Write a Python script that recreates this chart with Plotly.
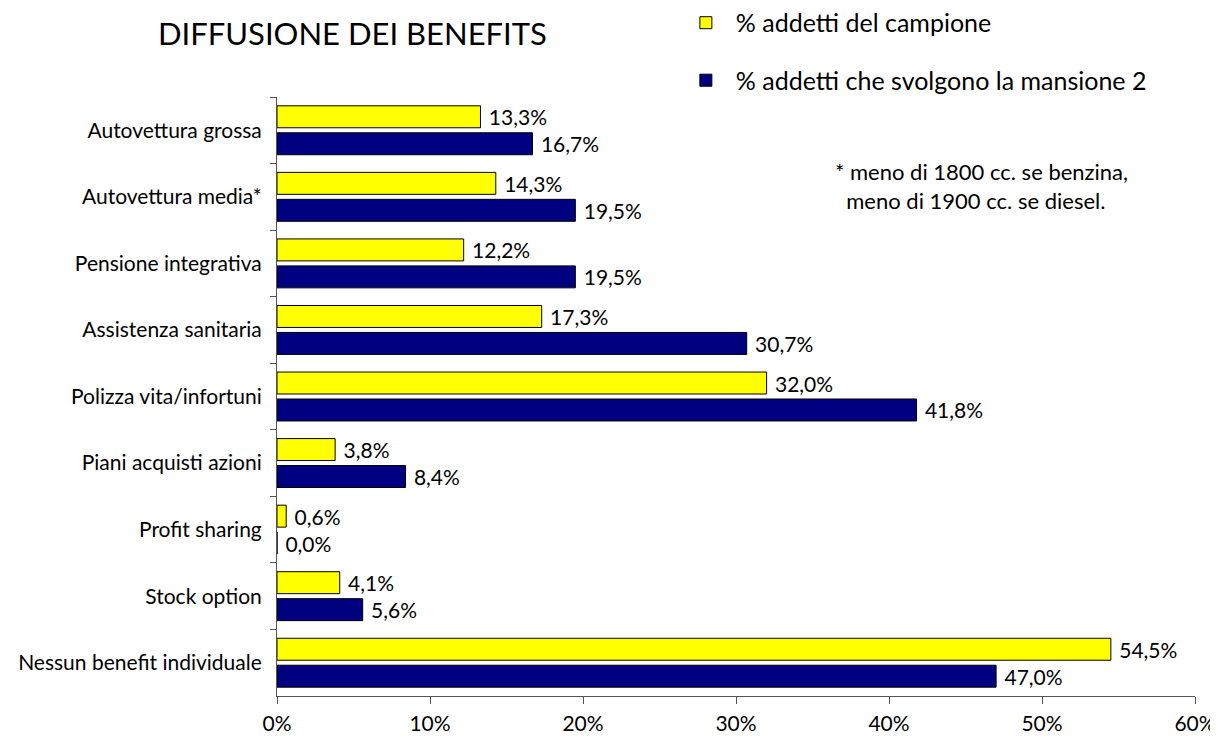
import plotly.graph_objects as go

# dati
categorie = [
    "Autovettura grossa",
    "Autovettura media*",
    "Pensione integrativa",
    "Assistenza sanitaria",
    "Polizza vita/infortuni",
    "Piani acquisti azioni",
    "Profit sharing",
    "Stock option",
    "Nessun benefit individuale",
]
campione = [13.3, 14.3, 12.2, 17.3, 32.0, 3.8, 0.6, 4.1, 54.5]
mansione2 = [16.7, 19.5, 19.5, 30.7, 41.8, 8.4, 0.0, 5.6, 47.0]

nome_campione = "% addetti del campione"
nome_mansione = "% addetti che svolgono la mansione 2"

FONT = "Lato, 'Open Sans', sans-serif"


def etichette(valori):
    # virgola decimale, con uno spazio per staccare dalla barra
    return [" " + f"{v:.1f}%".replace(".", ",") for v in valori]


fig = go.Figure()
fig.add_trace(go.Bar(
    y=categorie, x=campione, orientation="h", name=nome_campione,
    marker=dict(color="#FFFF00", line=dict(color="#000000", width=1)),
    text=etichette(campione), textposition="outside", cliponaxis=False,
    constraintext="none", textfont=dict(size=21, color="#000000"),
    legendgroup="a",
))
fig.add_trace(go.Bar(
    y=categorie, x=mansione2, orientation="h", name=nome_mansione,
    marker=dict(color="#000080", line=dict(color="#000000", width=1)),
    text=etichette(mansione2), textposition="outside", cliponaxis=False,
    constraintext="none", textfont=dict(size=21, color="#000000"),
    legendgroup="b",
))

# titolo e nota
fig.add_annotation(text="DIFFUSIONE DEI BENEFITS", xref="paper", yref="paper",
                   x=0.082, y=1.107, xanchor="center", yanchor="middle",
                   showarrow=False, font=dict(size=31, color="#000000"))
fig.add_annotation(text="* meno di 1800 cc. se benzina,<br>  meno di 1900 cc. se diesel.",
                   xref="paper", yref="paper", x=0.606, y=0.902,
                   xanchor="left", yanchor="top", align="left",
                   showarrow=False, font=dict(size=22, color="#000000"))

# la pagina ha un margine di 8px: il grafico va compensato
fig.update_layout(
    width=1210, height=730,
    font=dict(family=FONT, color="#000000"),
    plot_bgcolor="white", paper_bgcolor="white",
    barmode="group", bargap=0.19, bargroupgap=0.185,
    margin=dict(l=269, r=23, t=89, b=42, autoexpand=False),
    showlegend=True,
    legend=dict(x=0.4345, y=1.162, xanchor="left", yanchor="top",
                font=dict(size=25), traceorder="grouped", tracegroupgap=22,
                itemwidth=50, bgcolor="rgba(0,0,0,0)"),
    xaxis=dict(range=[0, 60], dtick=10, ticksuffix="%", showgrid=False,
               zeroline=False, showline=True, linecolor="#555555", linewidth=1,
               ticks="outside", ticklen=7, tickcolor="#555555",
               ticklabelstandoff=2, tickfont=dict(size=21)),
    yaxis=dict(autorange="reversed", showgrid=False, showline=True,
               linecolor="#555555", linewidth=1, ticks="outside", ticklen=6,
               tickcolor="#555555", tickson="boundaries",
               ticklabelstandoff=10, tickfont=dict(size=21)),
)

fig.write_html("out.html")
